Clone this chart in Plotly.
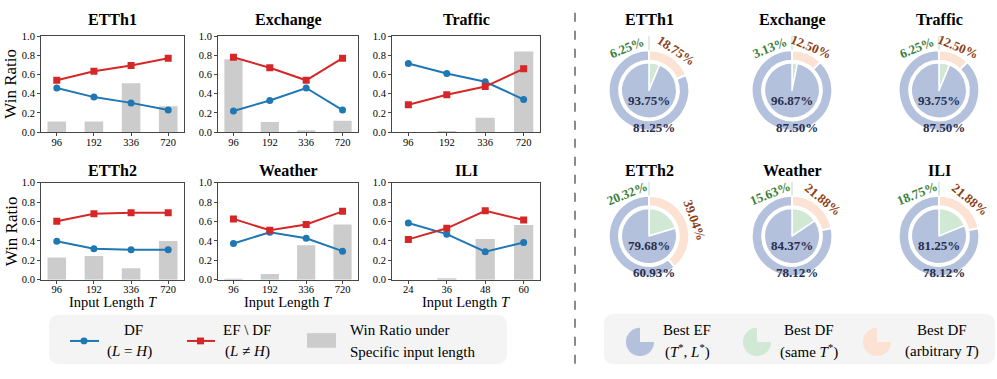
#Win ratio panels (left) and best-config donuts (right)

import math
import plotly.graph_objects as go

W, H = 997, 379
FONT = "Liberation Serif, Times New Roman, DejaVu Serif, serif"


def px(x):
    return x / W


def py(y):
    return 1 - y / H


#input lengths on the x axis
lengths = ["96", "192", "336", "720"]
ili_lengths = ["24", "36", "48", "60"]

#win ratio of DF (L = H), EF \ DF (L != H), and share of wins per input length
etth1_df = [0.46, 0.365, 0.305, 0.23]
etth1_ef = [0.54, 0.635, 0.695, 0.77]
etth1_bar = [0.11, 0.11, 0.51, 0.27]

exchange_df = [0.22, 0.33, 0.46, 0.23]
exchange_ef = [0.78, 0.67, 0.54, 0.77]
exchange_bar = [0.76, 0.105, 0.02, 0.12]

traffic_df = [0.715, 0.61, 0.525, 0.34]
traffic_ef = [0.285, 0.39, 0.475, 0.66]
traffic_bar = [0.0, 0.013, 0.15, 0.84]

etth2_df = [0.397, 0.32, 0.31, 0.31]
etth2_ef = [0.603, 0.68, 0.69, 0.69]
etth2_bar = [0.23, 0.245, 0.12, 0.40]

weather_df = [0.373, 0.49, 0.427, 0.295]
weather_ef = [0.627, 0.51, 0.57, 0.705]
weather_bar = [0.005, 0.06, 0.355, 0.57]

ili_df = [0.584, 0.47, 0.29, 0.385]
ili_ef = [0.416, 0.53, 0.71, 0.615]
ili_bar = [0.0, 0.017, 0.42, 0.564]

#donut values (%)
donut_names = ["ETTh1", "Exchange", "Traffic", "ETTh2", "Weather", "ILI"]
inner_best_ef = [93.75, 96.87, 93.75, 79.68, 84.37, 81.25]
inner_best_df_same = [6.25, 3.13, 6.25, 20.32, 15.63, 18.75]
outer_best_ef = [81.25, 87.50, 87.50, 60.93, 78.12, 78.12]
outer_best_df_any = [18.75, 12.50, 12.50, 39.04, 21.88, 21.88]

BLUE = "rgb(31,119,180)"
RED = "rgb(214,39,40)"
GRAY = "rgb(204,204,204)"
AX = "rgb(70,70,70)"
P_BLUE = "rgb(180,193,221)"
P_GREEN = "rgb(208,232,212)"
P_PEACH = "rgb(252,226,210)"
T_GREEN = "rgb(60,128,60)"
T_BROWN = "rgb(140,64,20)"
T_NAVY = "rgb(38,46,78)"

panels = [
    ("ETTh1", lengths, etth1_df, etth1_ef, etth1_bar),
    ("Exchange", lengths, exchange_df, exchange_ef, exchange_bar),
    ("Traffic", lengths, traffic_df, traffic_ef, traffic_bar),
    ("ETTh2", lengths, etth2_df, etth2_ef, etth2_bar),
    ("Weather", lengths, weather_df, weather_ef, weather_bar),
    ("ILI", ili_lengths, ili_df, ili_ef, ili_bar),
]
col_px = [(41, 184), (218, 358), (392, 540)]
row_px = [(32, 131), (183, 283)]

fig = go.Figure()
layout = dict(
    width=W, height=H,
    margin=dict(l=0, r=0, t=0, b=0),
    paper_bgcolor="white", plot_bgcolor="white",
    showlegend=False,
    font=dict(family=FONT, color="black"),
)
annotations = []
shapes = []


def label(x, y, text, size, color="black", angle=0, anchor="center"):
    annotations.append(dict(x=px(x), y=py(y), xref="paper", yref="paper", text=text, showarrow=False,
                            xanchor=anchor, yanchor="middle", textangle=angle,
                            font=dict(family=FONT, size=size, color=color)))


for i, (name, cats, df_vals, ef_vals, bar_vals) in enumerate(panels):
    k = i + 1
    r, c = divmod(i, 3)
    xa = "x" if k == 1 else "x%d" % k
    ya = "y" if k == 1 else "y%d" % k
    fig.add_trace(go.Bar(x=cats, y=bar_vals, width=0.5, marker=dict(color=GRAY, line=dict(width=0)),
                         xaxis=xa, yaxis=ya))
    fig.add_trace(go.Scatter(x=cats, y=df_vals, mode="lines+markers",
                             line=dict(color=BLUE, width=2),
                             marker=dict(symbol="circle", size=7, color=BLUE),
                             xaxis=xa, yaxis=ya))
    fig.add_trace(go.Scatter(x=cats, y=ef_vals, mode="lines+markers",
                             line=dict(color=RED, width=2),
                             marker=dict(symbol="square", size=7, color=RED),
                             xaxis=xa, yaxis=ya))
    x0, x1 = col_px[c]
    y0, y1 = row_px[r]
    common = dict(showline=True, mirror=True, linecolor=AX, linewidth=1, ticks="outside",
                  ticklen=3, tickcolor=AX, showgrid=False, zeroline=False,
                  tickfont=dict(size=10.5, family=FONT, color="black"))
    layout["xaxis" if k == 1 else "xaxis%d" % k] = dict(
        domain=[px(x0), px(x1)], anchor=ya, type="category", range=[-0.425, 3.425],
        ticklabelstandoff=-3, **common)
    layout["yaxis" if k == 1 else "yaxis%d" % k] = dict(
        domain=[py(y1), py(y0)], anchor=xa, range=[0, 1], dtick=0.2, tickformat=".1f", **common)
    label((x0 + x1) / 2, 15 if r == 0 else 170, "<b>%s</b>" % name, 16)
    if r == 1:
        label((x0 + x1) / 2, 306, "Input Length <i>T</i>", 14.5)

for yc in [81, 233]:
    label(11, yc, "Win Ratio", 17, angle=-90)

#donuts
donut_cx = [649, 792, 939]
donut_cy = [88, 238]
R_OUT, R_IN = 41.5, 28.5
for j, name in enumerate(donut_names):
    r, c = divmod(j, 3)
    cx, cy = donut_cx[c], donut_cy[r]
    fig.add_trace(go.Pie(values=[outer_best_df_any[j], outer_best_ef[j]],
                         marker=dict(colors=[P_PEACH, P_BLUE], line=dict(color="white", width=2)),
                         hole=0.74, sort=False, direction="clockwise", rotation=0, textinfo="none",
                         domain=dict(x=[px(cx - R_OUT), px(cx + R_OUT)], y=[py(cy + R_OUT), py(cy - R_OUT)])))
    fig.add_trace(go.Pie(values=[inner_best_df_same[j], inner_best_ef[j]],
                         marker=dict(colors=[P_GREEN, P_BLUE], line=dict(color="white", width=1.5)),
                         sort=False, direction="clockwise", rotation=0, textinfo="none",
                         domain=dict(x=[px(cx - R_IN), px(cx + R_IN)], y=[py(cy + R_IN), py(cy - R_IN)])))
    shapes.append(dict(type="line", xref="paper", yref="paper", x0=px(cx), x1=px(cx),
                       y0=py(cy - R_OUT), y1=py(cy - 56), line=dict(color=P_GREEN, width=1.5)))
    label(cx, 15 if r == 0 else 170, "<b>%s</b>" % name, 16)
    label(cx, cy + 10, "<b>%.2f%%</b>" % inner_best_ef[j], 13, T_NAVY)
    label(cx + 5, cy + 38, "<b>%.2f%%</b>" % outer_best_ef[j], 13, T_NAVY)
    label(cx - 22, cy - 44, "<b>%.2f%%</b>" % inner_best_df_same[j], 13, T_GREEN, angle=-22)
    theta = outer_best_df_any[j] / 100 * 180
    rad = math.radians(theta)
    label(cx + 49 * math.sin(rad), cy - 49 * math.cos(rad), "<b>%.2f%%</b>" % outer_best_df_any[j], 13,
          T_BROWN, angle=theta)

#separator
shapes.append(dict(type="line", xref="paper", yref="paper", x0=px(575), x1=px(575), y0=py(8), y1=py(372),
                   line=dict(color="rgb(60,60,60)", width=1.2, dash="dash")))


def rounded_box(x0, y0, x1, y1, rr):
    pts = [("M", x0 + rr, y0), ("L", x1 - rr, y0), ("Q", x1, y0, x1, y0 + rr), ("L", x1, y1 - rr),
           ("Q", x1, y1, x1 - rr, y1), ("L", x0 + rr, y1), ("Q", x0, y1, x0, y1 - rr),
           ("L", x0, y0 + rr), ("Q", x0, y0, x0 + rr, y0)]
    s = ""
    for p in pts:
        s += p[0] + " " + " ".join("%.5f,%.5f" % (px(p[n]), py(p[n + 1])) for n in range(1, len(p), 2)) + " "
    return s + "Z"


shapes.append(dict(type="path", xref="paper", yref="paper", path=rounded_box(49, 319, 507, 370, 11),
                   fillcolor="rgb(244,244,244)", line=dict(width=0), layer="below"))
shapes.append(dict(type="path", xref="paper", yref="paper", path=rounded_box(604, 318, 995, 370, 11),
                   fillcolor="rgb(244,244,244)", line=dict(width=0), layer="below"))

#left legend glyphs
ly = 346
shapes.append(dict(type="line", xref="paper", yref="paper", x0=px(70), x1=px(99), y0=py(ly), y1=py(ly),
                   line=dict(color=BLUE, width=2)))
shapes.append(dict(type="circle", xref="paper", yref="paper", x0=px(80.5), x1=px(87.5), y0=py(ly + 3.5),
                   y1=py(ly - 3.5), fillcolor=BLUE, line=dict(width=0)))
shapes.append(dict(type="line", xref="paper", yref="paper", x0=px(187), x1=px(215), y0=py(ly), y1=py(ly),
                   line=dict(color=RED, width=2)))
shapes.append(dict(type="rect", xref="paper", yref="paper", x0=px(197), x1=px(204), y0=py(ly + 3.5),
                   y1=py(ly - 3.5), fillcolor=RED, line=dict(width=0)))
shapes.append(dict(type="rect", xref="paper", yref="paper", x0=px(307), x1=px(336), y0=py(353),
                   y1=py(338), fillcolor=GRAY, line=dict(width=0)))

legend_texts = [
    (133, 335, "DF", "center"), (129, 357, "(<i>L</i> = <i>H</i>)", "center"),
    (247, 335, "EF \\ DF", "center"), (247, 357, "(<i>L</i> ≠ <i>H</i>)", "center"),
    (348, 335, "Win Ratio under", "left"), (348, 357, "Specific input length", "left"),
    (687, 335, "Best EF", "center"), (687, 357, "(<i>T</i><sup>*</sup>, <i>L</i><sup>*</sup>)", "center"),
    (809, 335, "Best DF", "center"), (809, 357, "(same <i>T</i><sup>*</sup>)", "center"),
    (942, 335, "Best DF", "center"), (942, 357, "(arbitrary <i>T</i>)", "center"),
]
for x, y, t, anc in legend_texts:
    label(x, y, t, 15, anchor=anc)

#right legend icons
for cx, col in [(640, P_BLUE), (757, P_GREEN), (877, P_PEACH)]:
    fig.add_trace(go.Pie(values=[25, 75], marker=dict(colors=["rgba(0,0,0,0)", col], line=dict(width=0)),
                         sort=False, direction="clockwise", rotation=0, textinfo="none",
                         domain=dict(x=[px(cx - 14.5), px(cx + 14.5)], y=[py(347 + 14.5), py(347 - 14.5)])))

layout["annotations"] = annotations
layout["shapes"] = shapes
fig.update_layout(**layout)
fig.write_html("out.html", config={"displayModeBar": False},
               post_script="document.body.style.margin='0';document.body.style.overflow='hidden';")
